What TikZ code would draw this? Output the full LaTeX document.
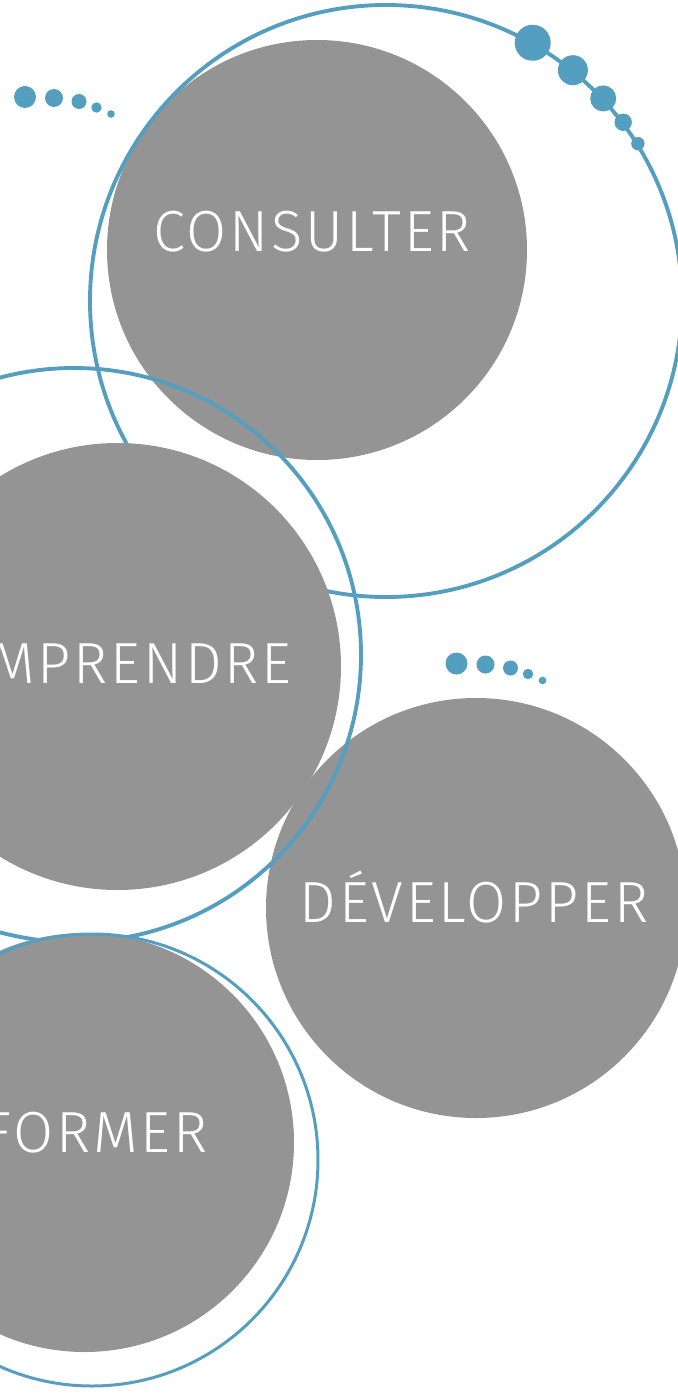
\documentclass[tikz,border=0pt]{standalone}
\usepackage{fontspec}
\newfontfamily\wordfont[LetterSpace=5]{Fira Sans Light}
\definecolor{ringblue}{RGB}{84,158,192}
\definecolor{discgrey}{RGB}{148,148,148}
\tikzset{
  ring/.style={draw=ringblue, line width=2.2pt},
  thinring/.style={draw=ringblue, line width=1.7pt},
  disc/.style={fill=discgrey},
  bead/.style={fill=ringblue},
  word/.style={text=white, inner sep=0pt, font=\wordfont\fontsize{33}{33}\selectfont}
}

\begin{document}
\begin{tikzpicture}[x=0.02cm, y=0.02cm]
\useasboundingbox (0,0) rectangle (678,-1395);
\clip (0,0) rectangle (678,-1395);
% centres
\coordinate (consulter) at (317,-250);
\coordinate (ringA) at (386,-301);
\coordinate (comprendre) at (117.5,-666.5);
\coordinate (ringB) at (74,-655);
\coordinate (developper) at (476,-908);
\coordinate (former) at (84.5,-1142.5);
\coordinate (ringC) at (92,-1160);
\coordinate (trailA) at (25,-97);
\coordinate (trailB) at (456.5,-663.5);
% discs and rings
\fill [disc] (consulter) circle (210);
\draw [ring] (ringA) circle (296);
\foreach \a/\r in {60.4/18,51/15,43/13,37/8.7,32/6.7}
  \fill [bead] (ringA) ++(\a:297) circle (\r);
\fill [disc] (comprendre) circle (223.5);
\fill [disc] (developper) circle (210);
\draw [ring] (ringB) circle (287);
\fill [disc] (former) circle (209.5);
\draw [thinring] (ringC) circle (226);
% dot trails
\foreach \dx/\dy/\r in {0/0/11, 29/-1/9, 54/-4.5/7.5, 71.5/-10.5/5.2, 86/-17/3.8} {
  \fill [bead] (trailA) ++(\dx,\dy) circle (\r);
  \fill [bead] (trailB) ++(\dx,\dy) circle (\r);
}
% words
\node [word, anchor=base] (consulter-w) at (312,-252) {CONSULTER};
\node [word, anchor=base east] (comprendre-w) at (292,-683) {COMPRENDRE};
\node [word, anchor=base] (developper-w) at (474,-922) {DÉVELOPPER};
\node [word, anchor=base east] (former-w) at (208,-1152) {FORMER};
\end{tikzpicture}
\end{document}
